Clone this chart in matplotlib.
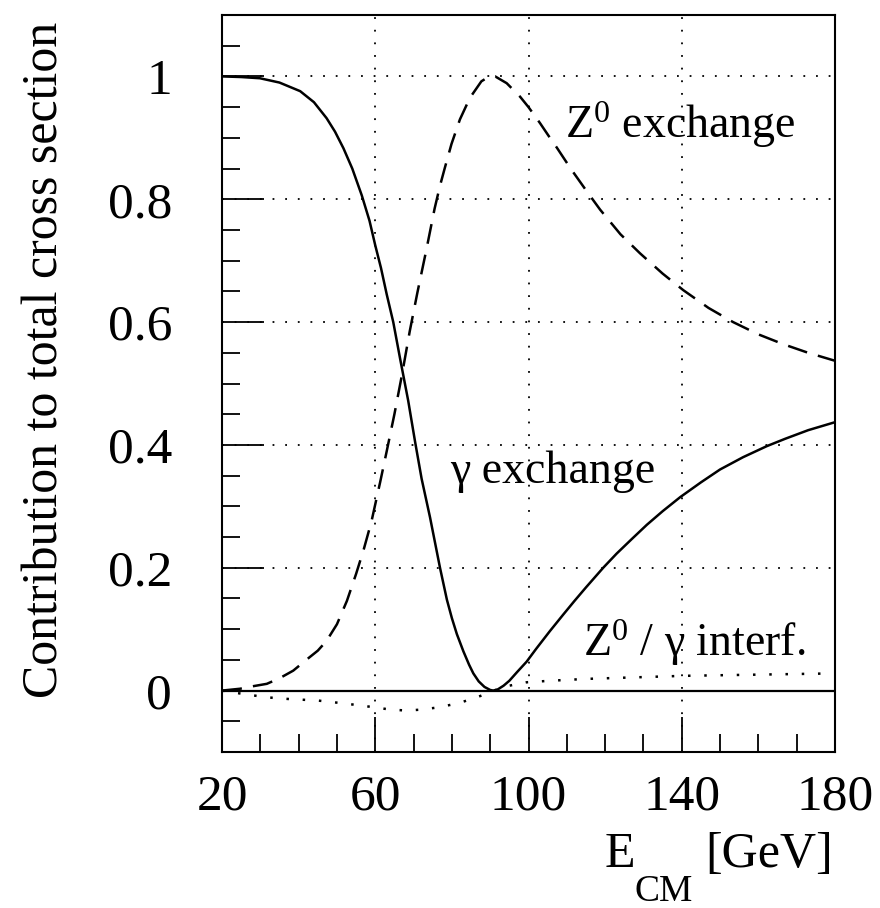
import numpy as np
import matplotlib
matplotlib.use("Agg")
import matplotlib.pyplot as plt
from matplotlib.ticker import MultipleLocator

plt.rcParams['font.family'] = ['Liberation Serif', 'DejaVu Serif']
plt.rcParams['mathtext.fontset'] = 'custom'
plt.rcParams['mathtext.rm'] = 'Liberation Serif'
plt.rcParams['mathtext.it'] = 'Liberation Serif:italic'

# gamma exchange (solid)
e_gamma = [20, 25, 29.9, 35, 40.4, 44, 47.3, 49.5, 51.7, 54, 56.5, 58.5, 60, 61.5, 63,
           64.7, 66.5, 68.6, 70.4, 72.1, 74.3, 76.9, 78.7, 80, 81.3, 83, 84.5, 85.6, 87,
           88.5, 90, 90.8, 92, 93.5, 95, 97, 99.5, 102, 105.6, 109.1, 112, 115, 119.5,
           123, 127, 130.9, 135, 139.6, 145, 150, 156, 162.2, 167, 173, 180]
f_gamma = [1.0, 0.999, 0.997, 0.99, 0.976, 0.958, 0.932, 0.91, 0.883, 0.85, 0.806,
           0.765, 0.725, 0.688, 0.645, 0.6, 0.54, 0.472, 0.405, 0.345, 0.282, 0.2,
           0.148, 0.118, 0.092, 0.064, 0.042, 0.028, 0.015, 0.006, 0.001, 0.0, 0.002,
           0.008, 0.016, 0.03, 0.047, 0.068, 0.097, 0.124, 0.146, 0.168, 0.2, 0.223,
           0.247, 0.27, 0.292, 0.315, 0.339, 0.36, 0.38, 0.398, 0.41, 0.424, 0.437]

# Z0 exchange (dashed)
e_z = [20, 24.7, 28, 31.7, 35, 38.6, 42, 45, 47.3, 50, 52.6, 55, 57, 59, 61.3, 63, 65,
       67, 69, 71, 73.35, 75.5, 76.9, 78.2, 79.9, 82.1, 84.7, 87.7, 89.5, 91.3, 94.3,
       97.8, 100, 103, 105.6, 107.4, 111, 115.2, 118.7, 124, 129.1, 135, 140.4, 147,
       153.4, 160, 166.5, 173, 180]
f_z = [0.0, 0.003, 0.007, 0.011, 0.02, 0.0325, 0.05, 0.065, 0.081, 0.108, 0.146, 0.19,
       0.23, 0.275, 0.34, 0.39, 0.45, 0.515, 0.585, 0.648, 0.718, 0.785, 0.822, 0.852,
       0.89, 0.93, 0.965, 0.992, 0.999, 1.0, 0.989, 0.967, 0.95, 0.924, 0.9, 0.884,
       0.85, 0.813, 0.783, 0.743, 0.712, 0.679, 0.652, 0.623, 0.6, 0.58, 0.564, 0.55,
       0.537]

# Z0 / gamma interference (dotted)
e_int = [20, 25, 31.7, 38, 44.7, 52, 59.5, 64, 68.2, 72, 76.9, 82, 86.5, 89, 91, 95,
         99.5, 105.6, 115, 125, 140.4, 160, 180]
f_int = [0.0, -0.005, -0.011, -0.014, -0.016, -0.021, -0.027, -0.031, -0.0325, -0.031,
         -0.027, -0.02, -0.011, -0.005, 0.0, 0.008, 0.0135, 0.016, 0.019, 0.021, 0.024,
         0.026, 0.028]

x_major = [20, 60, 100, 140, 180]
y_major = [0, 0.2, 0.4, 0.6, 0.8, 1.0]
y_labels = ['0', '0.2', '0.4', '0.6', '0.8', '1']

fig = plt.figure(figsize=(8.8, 9.08), dpi=100)
ax = fig.add_axes([222/880, 1 - 752/908, (835 - 222)/880, (752 - 15)/908])

ax.set_xlim(20, 180)
ax.set_ylim(-0.1, 1.1)

# grid
for xv in x_major[1:-1]:
    ax.axvline(xv, color='black', lw=1.3, ls=(0, (1, 6)), zorder=1)
for yv in y_major:
    ax.axhline(yv, color='black', lw=1.3, ls=(0, (1, 6)), zorder=1)
ax.axhline(0, color='black', lw=1.6, zorder=2)

ax.plot(e_gamma, f_gamma, color='black', lw=1.8, zorder=3, solid_joinstyle='round')
ax.plot(e_z, f_z, color='black', lw=1.8, ls=(0, (8, 4.5)), zorder=3)
ax.plot(e_int, f_int, color='black', lw=1.8, ls=(0, (1, 5.5)), zorder=3)

ax.set_xticks(x_major)
ax.set_xticklabels([str(v) for v in x_major])
ax.xaxis.set_minor_locator(MultipleLocator(10))
ax.set_yticks(y_major)
ax.set_yticklabels(y_labels)
ax.yaxis.set_minor_locator(MultipleLocator(0.05))

ax.tick_params(axis='x', which='major', direction='in', length=25, width=1.3,
               labelsize=37, pad=16, top=False)
ax.tick_params(axis='x', which='minor', direction='in', length=13, width=1.3, top=False)
ax.tick_params(axis='y', which='major', direction='in', length=30, width=1.3,
               labelsize=37, pad=36, right=False)
ax.tick_params(axis='y', which='minor', direction='in', length=13, width=1.3, right=False)

for s in ax.spines.values():
    s.set_linewidth(1.5)

ax.text(109.6, 0.899, 'Z$^0$ exchange', fontsize=33, va='baseline', ha='left')
ax.text(79.5, 0.338, '\u03b3 exchange', fontsize=33, va='baseline', ha='left')
ax.text(114.3, 0.057, 'Z$^0$ / \u03b3 interf.', fontsize=33, va='baseline', ha='left')

fig.text(45/880, 1 - 360/908, 'Contribution to total cross section', fontsize=36,
         rotation=90, ha='center', va='center')
# x axis title: E with a low-set CM subscript
fig.text(605/880, 1 - 867/908, 'E', fontsize=36, ha='left', va='baseline')
fig.text(634/880, 1 - 901/908, 'CM', fontsize=27, ha='left', va='baseline')
fig.text(833/880, 1 - 867/908, '[GeV]', fontsize=36, ha='right', va='baseline')

fig.savefig('out.png', dpi=100)
